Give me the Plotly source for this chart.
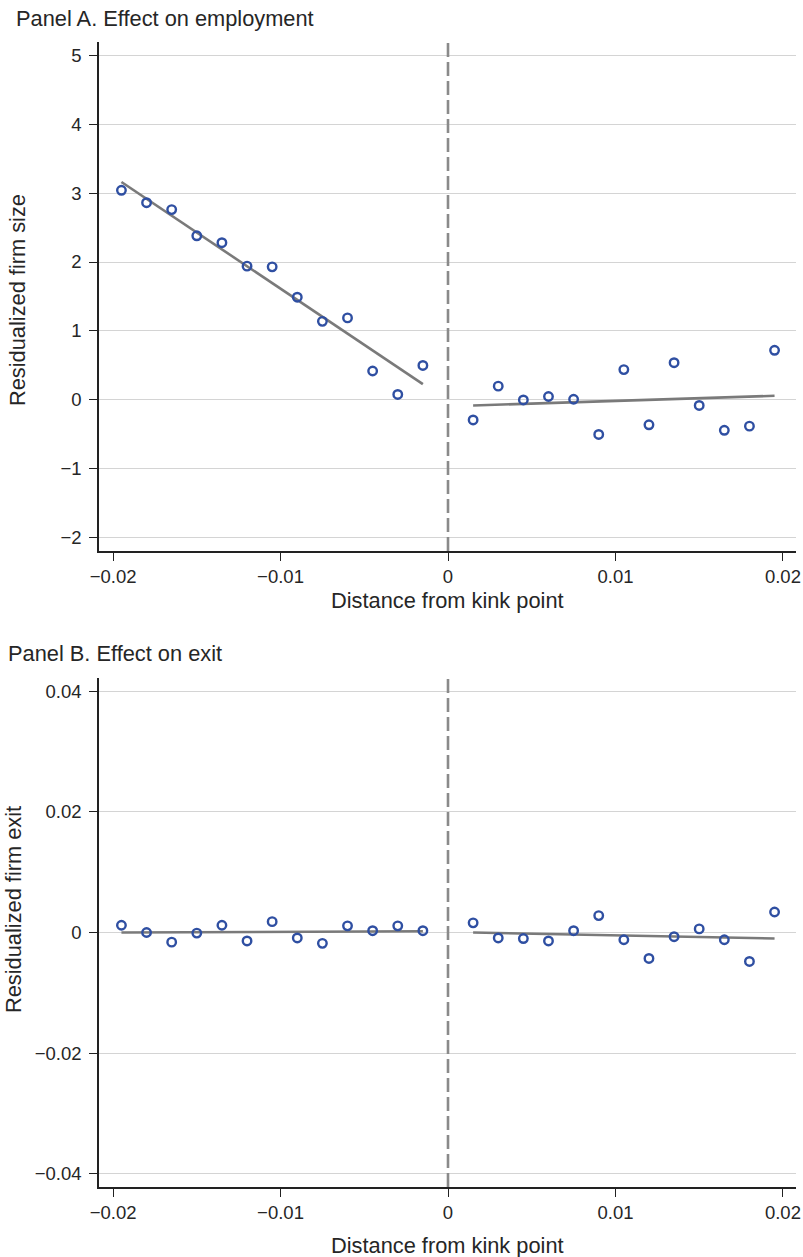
import plotly.graph_objects as go

# ---- data ----
bins_left = [-0.0195, -0.018, -0.0165, -0.015, -0.0135, -0.012, -0.0105,
             -0.009, -0.0075, -0.006, -0.0045, -0.003, -0.0015]
bins_right = [0.0015, 0.003, 0.0045, 0.006, 0.0075, 0.009, 0.0105,
              0.012, 0.0135, 0.015, 0.0165, 0.018, 0.0195]

emp_left = [3.04, 2.86, 2.76, 2.38, 2.28, 1.94, 1.93, 1.49, 1.14, 1.19, 0.42, 0.08, 0.50]
emp_right = [-0.29, 0.20, 0.00, 0.05, 0.01, -0.50, 0.44, -0.36, 0.54, -0.08, -0.44, -0.38, 0.72]
emp_fit_left_x = [-0.0195, -0.0015]
emp_fit_left_y = [3.16, 0.23]
emp_fit_right_x = [0.0015, 0.0195]
emp_fit_right_y = [-0.08, 0.06]

exit_left = [0.0012, 0.0000, -0.0016, -0.0001, 0.0012, -0.0014, 0.0018,
             -0.0009, -0.0018, 0.0011, 0.0003, 0.0011, 0.0003]
exit_right = [0.0016, -0.0009, -0.0010, -0.0014, 0.0003, 0.0028, -0.0012,
              -0.0043, -0.0007, 0.0006, -0.0012, -0.0048, 0.0034]
exit_fit_left_x = [-0.0195, -0.0015]
exit_fit_left_y = [0.0000, 0.0002]
exit_fit_right_x = [0.0015, 0.0195]
exit_fit_right_y = [0.0000, -0.0010]

x_ticks = [-0.02, -0.01, 0, 0.01, 0.02]
x_ticklabels = ["\u22120.02", "\u22120.01", "0", "0.01", "0.02"]
emp_ticks = [-2, -1, 0, 1, 2, 3, 4, 5]
emp_ticklabels = ["\u22122", "\u22121", "0", "1", "2", "3", "4", "5"]
exit_ticks = [-0.04, -0.02, 0, 0.02, 0.04]
exit_ticklabels = ["\u22120.04", "\u22120.02", "0", "0.02", "0.04"]

panel_titles = ["Panel A. Effect on employment", "Panel B. Effect on exit"]
y_titles = ["Residualized firm size", "Residualized firm exit"]
x_title = "Distance from kink point"

# ---- styling ----
W, H = 803, 1257
ML, MR, MT, MB = 99, 7, 42, 70
PW = W - ML - MR
PH = H - MT - MB
FONT = "Liberation Sans, Arial, Helvetica, sans-serif"
TXT = "#262626"
MARK = "#2F4FA2"
FIT = "#7a7a7a"
GRID = "#d4d4d4"
TICKSIZE = 18.5
TITLESIZE = 21.8


def px_x(p):
    return (p - ML) / PW


def px_y(p):
    return (H - MB - p) / PH


dom_a = [px_y(551), px_y(42)]
dom_b = [px_y(1187), px_y(678)]

fig = go.Figure()


def add_panel(xa, ya, left, right, flx, fly, frx, fry):
    for xs, ys in ((flx, fly), (frx, fry)):
        fig.add_trace(go.Scatter(x=xs, y=ys, mode="lines", xaxis=xa, yaxis=ya,
                                 line=dict(color=FIT, width=2.6), showlegend=False,
                                 hoverinfo="skip"))
    for xs, ys in ((bins_left, left), (bins_right, right)):
        fig.add_trace(go.Scatter(x=xs, y=ys, mode="markers", xaxis=xa, yaxis=ya,
                                 marker=dict(symbol="circle-open", size=8.5, color=MARK,
                                             line=dict(width=2.4, color=MARK)),
                                 showlegend=False))


add_panel("x", "y", emp_left, emp_right, emp_fit_left_x, emp_fit_left_y,
          emp_fit_right_x, emp_fit_right_y)
add_panel("x2", "y2", exit_left, exit_right, exit_fit_left_x, exit_fit_left_y,
          exit_fit_right_x, exit_fit_right_y)

xcommon = dict(range=[-0.02084, 0.02078], tickvals=x_ticks, ticktext=x_ticklabels,
               showgrid=False, zeroline=False, showline=True, linecolor="#222",
               linewidth=1.5, ticks="outside", ticklen=8, tickwidth=1.3,
               tickcolor="#222", tickfont=dict(size=TICKSIZE, color=TXT, family=FONT),
               fixedrange=True, automargin=False)
ycommon = dict(showgrid=True, gridcolor=GRID, gridwidth=1.2, zeroline=False,
               showline=True, linecolor="#222", linewidth=1.5, ticks="outside",
               ticklen=8, tickwidth=1.3, tickcolor="#222",
               tickfont=dict(size=TICKSIZE, color=TXT, family=FONT), fixedrange=True,
               automargin=False, ticklabelstandoff=4)

fig.update_layout(
    template="none",
    width=W, height=H,
    margin=dict(l=ML, r=MR, t=MT, b=MB, autoexpand=False),
    paper_bgcolor="white", plot_bgcolor="white",
    font=dict(family=FONT, color=TXT),
    xaxis=dict(domain=[0, 1], anchor="y", **xcommon),
    yaxis=dict(domain=dom_a, anchor="x", range=[-2.19, 5.19], tickvals=emp_ticks,
               ticktext=emp_ticklabels, **ycommon),
    xaxis2=dict(domain=[0, 1], anchor="y2", **xcommon),
    yaxis2=dict(domain=dom_b, anchor="x2", range=[-0.0422, 0.0422], tickvals=exit_ticks,
                ticktext=exit_ticklabels, **ycommon),
)

# vertical dashed line at the kink
for xr, yr in (("x", "y domain"), ("x2", "y2 domain")):
    fig.add_shape(type="line", xref=xr, yref=yr, x0=0, x1=0, y0=0, y1=1,
                  line=dict(color="#8a8a8a", width=2.6, dash="14px,5px"), layer="above")

ann = []
ann.append(dict(text=panel_titles[0], x=px_x(14), y=px_y(19), xanchor="left",
                yanchor="middle"))
ann.append(dict(text=panel_titles[1], x=px_x(6), y=px_y(653), xanchor="left",
                yanchor="middle"))
ann.append(dict(text=y_titles[0], x=px_x(18), y=px_y(300), textangle=-90,
                xanchor="center", yanchor="middle"))
ann.append(dict(text=y_titles[1], x=px_x(13), y=px_y(910), textangle=-90,
                xanchor="center", yanchor="middle"))
ann.append(dict(text=x_title, x=px_x(447.5), y=px_y(600), xanchor="center",
                yanchor="middle"))
ann.append(dict(text=x_title, x=px_x(447.5), y=px_y(1245), xanchor="center",
                yanchor="middle"))
for a in ann:
    a.update(xref="paper", yref="paper", showarrow=False,
             font=dict(size=TITLESIZE, color=TXT, family=FONT))
fig.update_layout(annotations=ann)

fig.write_html(
    "out.html",
    config={"displayModeBar": False},
    post_script="document.body.style.margin='0';document.body.style.padding='0';",
)
